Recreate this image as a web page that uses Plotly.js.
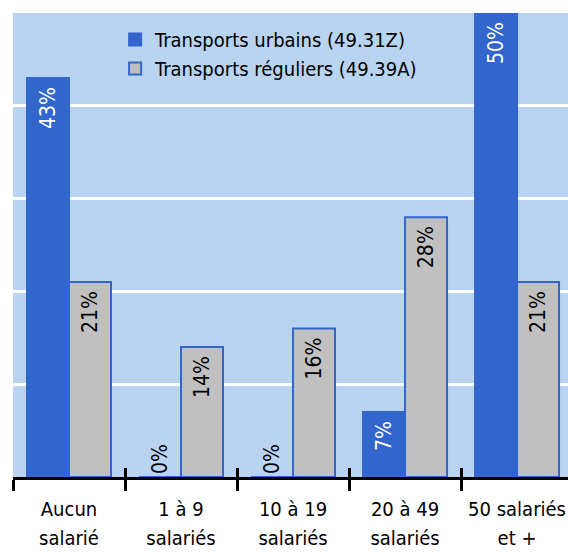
<!DOCTYPE html>
<html>
<head>
<meta charset="utf-8">
<script src="https://cdn.plot.ly/plotly-3.0.1.min.js"></script>
<style>html,body{margin:0;padding:0;background:#fff;}#chart{width:568px;height:554px;}</style>
</head>
<body>
<div id="chart"></div>
<script>
const categories = ["Aucun<br>salarié", "1 à 9<br>salariés", "10 à 19<br>salariés", "20 à 49<br>salariés", "50 salariés<br>et +"];
const seriesNames = ["Transports urbains (49.31Z)", "Transports réguliers (49.39A)"];
const urbains = [43, 0, 0, 7, 50];
const reguliers = [21, 14, 16, 28, 21];

const FONT = "'DejaVu Sans Condensed', 'Liberation Sans Narrow', 'Arial Narrow', sans-serif";
const BLUE = "#3366CC";
const GREY = "#C0C0C0";

const catLine1 = categories.map(c => c.split("<br>")[0]);
const catLine2 = categories.map(c => c.split("<br>")[1]);
const catIndex = categories.map((c, i) => i);
const boundaries = categories.map((c, i) => i - 0.5);

function barTrace(name, values, fill, insideColor) {
  return {
    type: "bar",
    name: name,
    x: categories,
    y: values,
    text: values.map(v => v + "%\u00a0"),
    textposition: values.map(v => v === 0 ? "outside" : "inside"),
    insidetextanchor: "end",
    textangle: -90,
    constraintext: "none",
    cliponaxis: false,
    insidetextfont: {family: FONT, size: 21, color: insideColor},
    outsidetextfont: {family: FONT, size: 21, color: "#000"},
    marker: {color: fill, line: {color: BLUE, width: 2}},
    hoverinfo: "skip"
  };
}

const traces = [
  barTrace(seriesNames[0], urbains, BLUE, "#fff"),
  barTrace(seriesNames[1], reguliers, GREY, "#000"),
  {type: "scatter", x: [], y: [], xaxis: "x2", yaxis: "y", showlegend: false, hoverinfo: "skip"},
  {type: "scatter", x: [], y: [], xaxis: "x3", yaxis: "y", showlegend: false, hoverinfo: "skip"}
];

const xRange = [-0.5, 4.455];

const layout = {
  width: 568,
  height: 554,
  margin: {l: 13, r: 0, t: 13, b: 77},
  paper_bgcolor: "#fff",
  plot_bgcolor: "#B8D4F0",
  font: {family: FONT, size: 20, color: "#000"},
  barmode: "group",
  bargap: 0.25,
  bargroupgap: 0,
  showlegend: true,
  legend: {
    x: 0.184, y: 0.985, xanchor: "left", yanchor: "top",
    bgcolor: "rgba(0,0,0,0)",
    font: {family: FONT, size: 20, color: "#000"},
    tracegroupgap: 0
  },
  xaxis: {
    type: "category",
    range: xRange,
    showline: true, linecolor: "#000", linewidth: 3,
    ticks: "outside", tickson: "boundaries", ticklen: 11, tickwidth: 3, tickcolor: "#000",
    tickmode: "array", tickvals: categories, ticktext: catLine1,
    ticklabelstandoff: 12,
    tickangle: 0,
    showgrid: false, zeroline: false,
    tickfont: {family: FONT, size: 20, color: "#000"},
    fixedrange: true
  },
  xaxis2: {
    type: "linear",
    overlaying: "x",
    anchor: "y",
    side: "bottom",
    range: xRange,
    tickmode: "array",
    tickvals: boundaries,
    ticks: "inside", ticklen: 9, tickwidth: 3, tickcolor: "#000",
    showticklabels: false, showgrid: false, zeroline: false, showline: false,
    fixedrange: true
  },
  xaxis3: {
    type: "linear",
    overlaying: "x",
    anchor: "y",
    side: "bottom",
    range: xRange,
    tickmode: "array",
    tickvals: catIndex,
    ticktext: catLine2,
    ticks: "",
    ticklabelstandoff: 47,
    tickangle: 0,
    tickfont: {family: FONT, size: 20, color: "#000"},
    showticklabels: true, showgrid: false, zeroline: false, showline: false,
    fixedrange: true
  },
  yaxis: {
    range: [0, 50],
    dtick: 10,
    showgrid: true, gridcolor: "#fff", gridwidth: 3,
    showticklabels: false, zeroline: false, showline: false, ticks: "",
    fixedrange: true
  }
};

Plotly.newPlot("chart", traces, layout, {displayModeBar: false, staticPlot: true});
</script>
</body>
</html>
